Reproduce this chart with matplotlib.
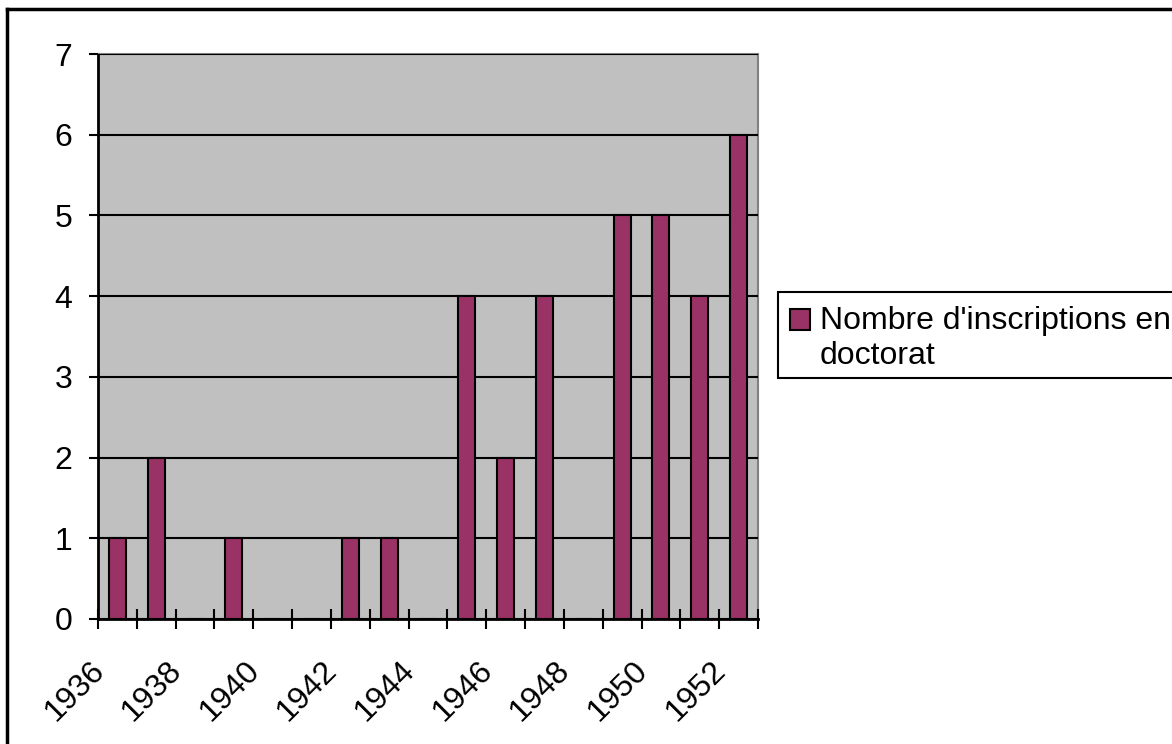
import matplotlib.pyplot as plt
import matplotlib.patches as mpatches
import matplotlib.lines as mlines
from matplotlib.transforms import ScaledTranslation
import numpy as np

years = list(range(1936, 1953))
inscriptions = [1, 2, 0, 1, 0, 0, 1, 1, 0, 4, 2, 4, 0, 5, 5, 4, 6]
label_years = [y for y in years if y % 2 == 0]
series_name = "Nombre d'inscriptions en\ndoctorat"

plt.rcParams['font.family'] = ['Liberation Sans', 'DejaVu Sans']

W, H = 1172, 744
fig = plt.figure(figsize=(W / 100, H / 100), dpi=100)
ax = fig.add_axes([98 / W, 1 - 619 / H, (758 - 98) / W, (619 - 54) / H])

bar_color = '#993366'
x = np.arange(len(years))
ax.set_facecolor('#C0C0C0')
ax.bar(x, inscriptions, width=0.44, color=bar_color, edgecolor='black',
       linewidth=1.5, zorder=3)

ax.set_xlim(-0.5, len(years) - 0.5)
ax.set_ylim(0, 7)
ax.set_yticks(range(0, 8))
ax.yaxis.grid(True, color='black', linewidth=1.5)
ax.set_axisbelow(False)

# tick marks at category boundaries, labels at category centres
ax.set_xticks(np.arange(-0.5, len(years), 1.0))
ax.set_xticklabels([])
ax.tick_params(axis='x', which='major', direction='inout', length=14, width=1.5)
ax.set_xticks([years.index(y) for y in label_years], minor=True)
ax.set_xticklabels([str(y) for y in label_years], minor=True, rotation=45,
                   ha='right', va='top', fontsize=23)
ax.tick_params(axis='x', which='minor', length=0, pad=26)
shift = ScaledTranslation(-7 / 100, 0, fig.dpi_scale_trans)
for lbl in ax.get_xticklabels(minor=True):
    lbl.set_transform(lbl.get_transform() + shift)
ax.tick_params(axis='y', direction='out', length=6.5, width=1.5, labelsize=23, pad=12)

for side in ['left', 'bottom']:
    ax.spines[side].set_linewidth(2)
    ax.spines[side].set_color('black')
for side in ['top', 'right']:
    ax.spines[side].set_linewidth(1.5)
    ax.spines[side].set_color('#808080')

# legend box, drawn by hand so the key sits on the first line
def px(xp, yp):
    return xp / W, 1 - yp / H

fig.patches.append(mpatches.Rectangle(px(778, 378), (1190 - 778) / W, (378 - 292) / H,
                                      transform=fig.transFigure, facecolor='white',
                                      edgecolor='black', linewidth=1.5))
fig.patches.append(mpatches.Rectangle(px(790, 330), 20 / W, 21 / H,
                                      transform=fig.transFigure, facecolor=bar_color,
                                      edgecolor='black', linewidth=1.5))
fig.text(*px(820, 306), series_name, fontsize=23, ha='left', va='top',
         linespacing=1.2)

# chart area border (only top and left edges fall inside the image)
fig.lines.append(mlines.Line2D([7 / W, 1], [1 - 9 / H, 1 - 9 / H],
                               transform=fig.transFigure, color='black', linewidth=2.5))
fig.lines.append(mlines.Line2D([7 / W, 7 / W], [0, 1 - 9 / H],
                               transform=fig.transFigure, color='black', linewidth=2.5))

fig.savefig('out.png', dpi=100)
